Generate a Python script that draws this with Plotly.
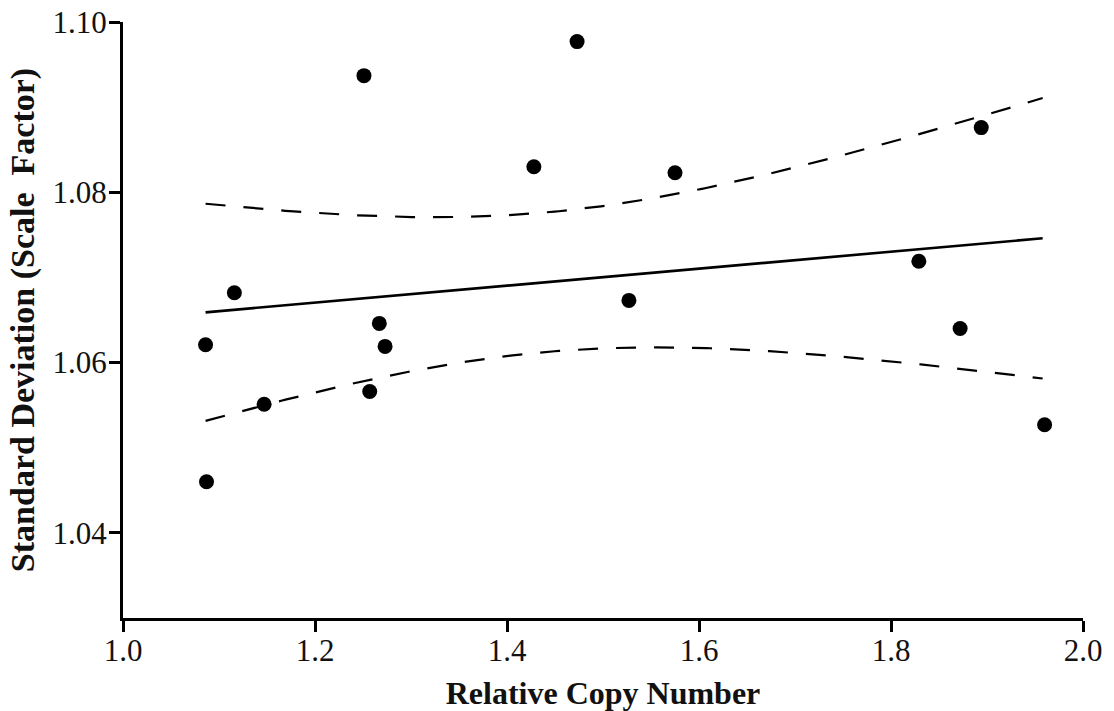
import numpy as np
import plotly.graph_objects as go

# Data
copy_number = [1.086, 1.087, 1.116, 1.147, 1.251, 1.257, 1.267, 1.273,
               1.428, 1.473, 1.527, 1.575, 1.829, 1.872, 1.894, 1.960]
std_dev = [1.0621, 1.0460, 1.0682, 1.0551, 1.0937, 1.0566, 1.0646, 1.0619,
           1.0830, 1.0977, 1.0673, 1.0823, 1.0719, 1.0640, 1.0876, 1.0527]

# Fitted regression line endpoints
fit_x = [1.086, 1.958]
fit_y = [1.0659, 1.0746]

x_ticks = [1.0, 1.2, 1.4, 1.6, 1.8, 2.0]
y_ticks = [1.04, 1.06, 1.08, 1.10]

# 95% confidence band around the fitted line
x = np.array(copy_number)
y = np.array(std_dev)
n = len(x)
slope = (fit_y[1] - fit_y[0]) / (fit_x[1] - fit_x[0])
intercept = fit_y[0] - slope * fit_x[0]
resid = y - (slope * x + intercept)
s = np.sqrt(np.sum(resid ** 2) / (n - 2))
t_crit = 2.1448  # t(0.975, df=14)
sxx = np.sum((x - x.mean()) ** 2)
xf = np.linspace(fit_x[0], fit_x[1], 200)
yf = slope * xf + intercept
half = t_crit * s * np.sqrt(1.0 / n + (xf - x.mean()) ** 2 / sxx)

FONT = "Liberation Serif, Times New Roman, serif"

fig = go.Figure()
fig.add_trace(go.Scatter(x=xf, y=yf + half, mode="lines",
                         line=dict(color="black", width=2.2, dash="20px,18px"),
                         hoverinfo="skip", showlegend=False))
fig.add_trace(go.Scatter(x=xf, y=yf - half, mode="lines",
                         line=dict(color="black", width=2.2, dash="20px,18px"),
                         hoverinfo="skip", showlegend=False))
fig.add_trace(go.Scatter(x=fit_x, y=fit_y, mode="lines",
                         line=dict(color="black", width=2.6),
                         hoverinfo="skip", showlegend=False))
fig.add_trace(go.Scatter(x=copy_number, y=std_dev, mode="markers",
                         marker=dict(color="black", size=15),
                         showlegend=False))

fig.update_layout(
    width=1114, height=711,
    margin=dict(l=123, r=31, t=22, b=93),
    paper_bgcolor="white", plot_bgcolor="white",
    font=dict(family=FONT, color="#111111"),
    xaxis=dict(
        range=[1.0, 2.0], tickvals=x_ticks, ticktext=[f"{v:.1f}" for v in x_ticks],
        automargin=False,
        showgrid=False, zeroline=False, showline=True, linecolor="black", linewidth=3,
        ticks="outside", ticklen=11, tickwidth=3, tickcolor="black",
        ticklabelstandoff=-8,
        tickfont=dict(size=31, family=FONT, color="#111111"),
        title=dict(text="<b>Relative Copy Number</b>", font=dict(size=32, family=FONT, color="#111111"),
                   standoff=17),
    ),
    yaxis=dict(
        range=[1.03, 1.10], tickvals=y_ticks, ticktext=[f"{v:.2f}" for v in y_ticks],
        automargin=False,
        showgrid=False, zeroline=False, showline=True, linecolor="black", linewidth=3,
        ticks="outside", ticklen=11, tickwidth=3, tickcolor="black",
        ticklabelstandoff=-4,
        tickfont=dict(size=31, family=FONT, color="#111111"),
        title=dict(text="<b>Standard Deviation (Scale\u00a0\u00a0Factor)</b>",
                   font=dict(size=34, family=FONT, color="#111111"), standoff=8),
    ),
)

fig.write_html("out.html")
